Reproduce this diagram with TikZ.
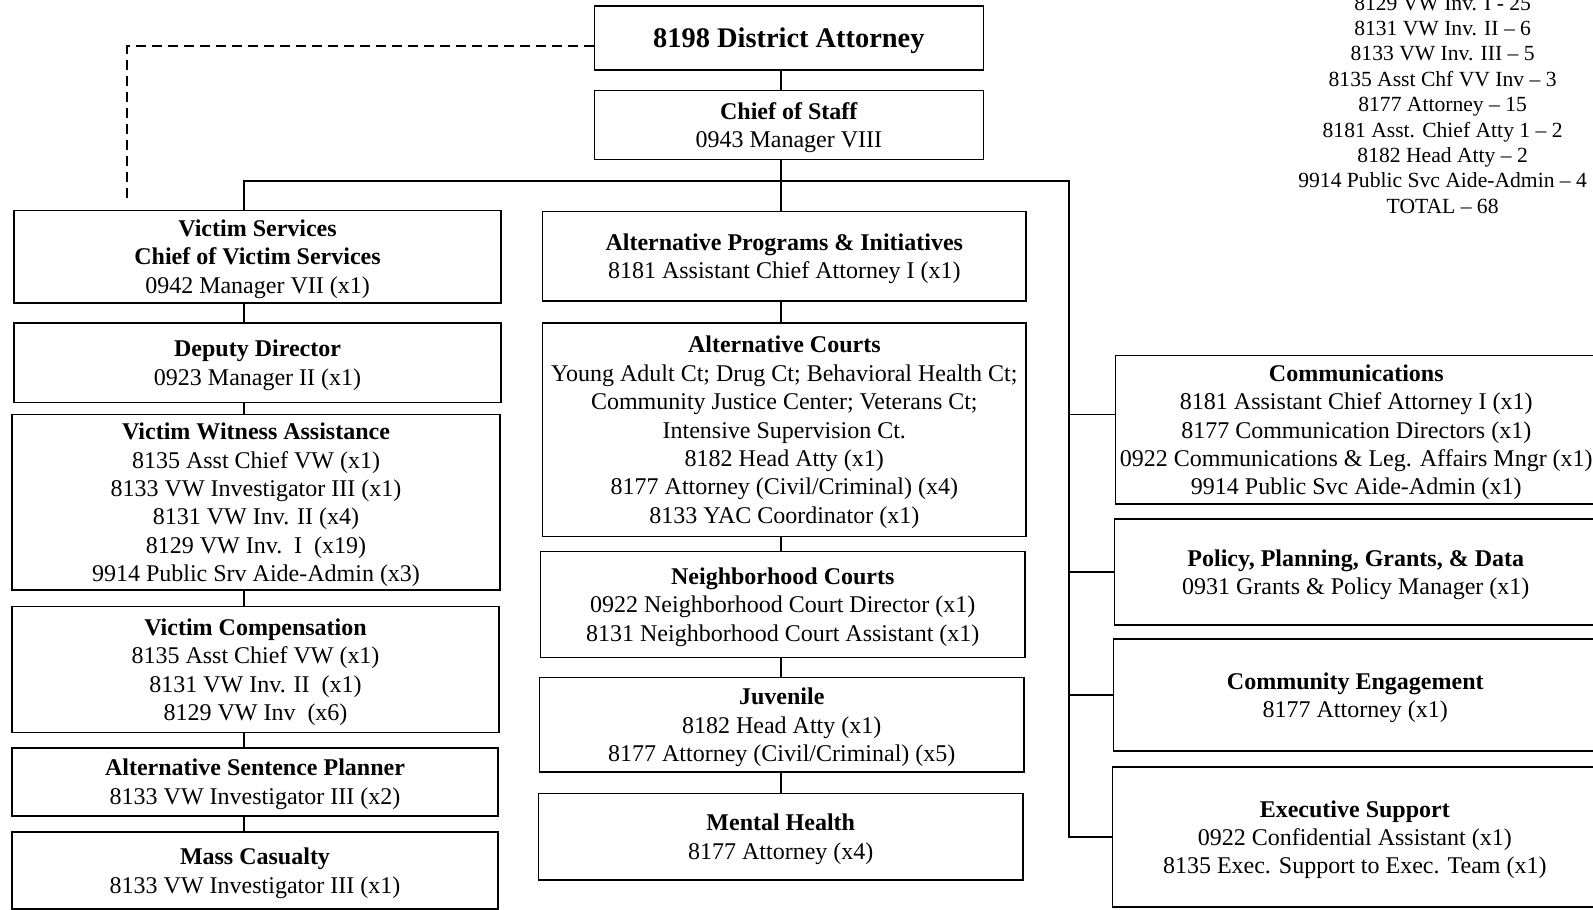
\documentclass[tikz,border=0pt]{standalone}
\usepackage{fontspec}
\setmainfont{Liberation Serif}
\usetikzlibrary{calc}
\newcommand{\pxu}{0.508pt}
\tikzset{box/.style 2 args={draw, line width=0.8pt, inner sep=0pt, align=center, text depth=-1pt, minimum width=#1*\pxu, minimum height=#2*\pxu, font=\fontsize{12}{14.2}\selectfont}}
\tikzset{conn/.style={line width=0.8pt}}
\tikzset{dline/.style={line width=0.8pt, dash pattern=on 5pt off 3pt}}
\tikzset{tot/.style={align=center, inner sep=0pt, font=\fontsize{10.8}{12.7}\selectfont}}

\begin{document}
\begin{tikzpicture}[x=\pxu, y=-\pxu]
\useasboundingbox (0,0) rectangle (1568,895);
\node (da) at (776.5,37.5) [box={383}{63}, text depth=-2pt, font=\fontsize{14.2}{16}\selectfont\bfseries] {8198 District Attorney};
\node (cos) at (776.5,123) [box={383}{68}] {\textbf{Chief of Staff}\\0943 Manager VIII};
% left column
\node (vs) at (253.5,252.5) [box={479}{91}] {\textbf{Victim Services}\\\textbf{Chief of Victim Services}\\0942 Manager VII (x1)};
\node (dd) at (253.5,357) [box={479}{78}] {\textbf{Deputy Director}\\0923 Manager II (x1)};
\node (vwa) at (252,494.5) [box={480}{173}] {\textbf{Victim Witness Assistance}\\8135 Asst Chief VW (x1)\\8133 VW Investigator III (x1)\\8131 VW Inv. II (x4)\\8129 VW Inv.\ \ I\ \ (x19)\\9914 Public Srv Aide-Admin (x3)};
\node (vc) at (251.5,659) [box={479}{124}] {\textbf{Victim Compensation}\\8135 Asst Chief VW (x1)\\8131 VW Inv. II\ \ (x1)\\8129 VW Inv\ \ (x6)};
\node (asp) at (251,769.5) [box={478}{67}] {\textbf{Alternative Sentence Planner}\\8133 VW Investigator III (x2)};
\node (mc) at (251,857) [box={478}{76}] {\textbf{Mass Casualty}\\8133 VW Investigator III (x1)};
% middle column
\node (api) at (772,252) [box={476}{88}] {\textbf{Alternative Programs \& Initiatives}\\8181 Assistant Chief Attorney I (x1)};
\node (ac) at (772,423) [box={476}{210}] {\textbf{Alternative Courts}\\Young Adult Ct; Drug Ct; Behavioral Health Ct;\\Community Justice Center; Veterans Ct;\\Intensive Supervision Ct.\\8182 Head Atty (x1)\\8177 Attorney (Civil/Criminal) (x4)\\8133 YAC Coordinator (x1)};
\node (nc) at (770.5,595) [box={477}{104}] {\textbf{Neighborhood Courts}\\0922 Neighborhood Court Director (x1)\\8131 Neighborhood Court Assistant (x1)};
\node (juv) at (769.5,713.5) [box={477}{93}] {\textbf{Juvenile}\\8182 Head Atty (x1)\\8177 Attorney (Civil/Criminal) (x5)};
\node (mh) at (768.5,823.5) [box={477}{85}] {\textbf{Mental Health}\\8177 Attorney (x4)};
% right column
\node (com) at (1335,423) [box={474}{146}] {\textbf{Communications}\\8181 Assistant Chief Attorney I (x1)\\8177 Communication Directors (x1)\\0922 Communications \& Leg. Affairs Mngr (x1)\\9914 Public Svc Aide-Admin (x1)};
\node (ppg) at (1334.5,563) [box={475}{104}] {\textbf{Policy, Planning, Grants, \& Data}\\0931 Grants \& Policy Manager (x1)};
\node (ce) at (1334,684) [box={476}{110}] {\textbf{Community Engagement}\\8177 Attorney (x1)};
\node (es) at (1333.5,824) [box={477}{138}] {\textbf{Executive Support}\\0922 Confidential Assistant (x1)\\8135 Exec. Support to Exec. Team (x1)};
\node (tot) at (1420,103) [tot] {8129 VW Inv. I - 25\\8131 VW Inv. II -- 6\\8133 VW Inv. III -- 5\\8135 Asst Chf VV Inv -- 3\\8177 Attorney -- 15\\8181 Asst. Chief Atty 1 -- 2\\8182 Head Atty -- 2\\9914 Public Svc Aide-Admin -- 4\\TOTAL -- 68};

\coordinate (bus) at (769,178);
\coordinate (lbus) at (240,178);
\coordinate (rbus) at (1052,178);
\draw[conn] (da.south -| bus) -- (cos.north -| bus);
\draw[conn] (cos.south -| bus) -- (bus);
\draw[conn] (vs.north -| lbus) -- (lbus) -- (rbus) -- (rbus |- es.west) -- (es.west);
\draw[conn] (bus) -- (api.north -| bus);
\foreach \a/\b in {vs/dd,dd/vwa,vwa/vc,vc/asp,asp/mc}
  \draw[conn] (\a.south -| lbus) -- (\b.north -| lbus);
\foreach \a/\b in {api/ac,ac/nc,nc/juv,juv/mh}
  \draw[conn] (\a.south -| bus) -- (\b.north -| bus);
\coordinate (comin) at ($(com.west)+(0,-15)$);
\draw[conn] (comin) -- (rbus |- comin);
\foreach \b in {ppg,ce}
  \draw[conn] (rbus |- \b.west) -- (\b.west);
\coordinate (dashin) at ($(da.west)+(0,8)$);
\coordinate (dlend) at (125,200);
\draw[dline] (dashin) -| (dlend);
\end{tikzpicture}
\end{document}
